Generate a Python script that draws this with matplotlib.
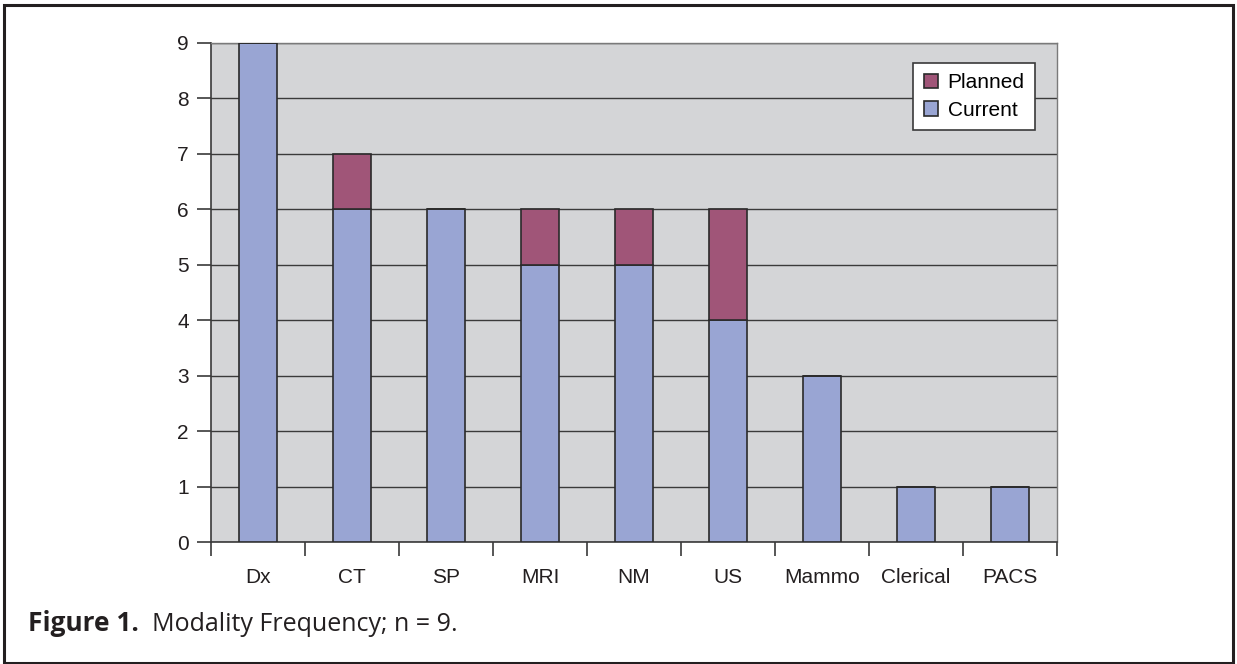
import matplotlib.pyplot as plt
import numpy as np
from matplotlib.patches import Rectangle

categories = ["Dx", "CT", "SP", "MRI", "NM", "US", "Mammo", "Clerical", "PACS"]
current = [9, 6, 6, 5, 5, 4, 3, 1, 1]
planned = [0, 1, 0, 1, 1, 2, 0, 0, 0]
y_ticks = [0, 1, 2, 3, 4, 5, 6, 7, 8, 9]

blue = "#99a5d3"
plum = "#a05578"
edge = "#2a2a2a"

plt.rcParams["font.family"] = ["Liberation Sans", "DejaVu Sans"]

fig = plt.figure(figsize=(12.37, 6.64), dpi=100)

# outer frame of the figure panel
fig.patches.append(Rectangle((4 / 1237, 1 / 664), 1229 / 1237, 658 / 664,
                             transform=fig.transFigure, fill=False,
                             edgecolor="#231f20", linewidth=2.2))

ax = fig.add_axes([211 / 1237, 1 - 542 / 664, 846 / 1237, 499 / 664])
ax.set_facecolor("#d4d5d7")

x = np.arange(len(categories))
ax.bar(x, current, width=0.4, color=blue, edgecolor=edge, linewidth=1.2,
       label="Current", zorder=3)
ax.bar(x, planned, width=0.4, bottom=current, color=plum, edgecolor=edge,
       linewidth=1.2, label="Planned", zorder=3)

ax.set_xlim(-0.5, len(categories) - 0.5)
ax.set_ylim(0, 9)
ax.set_yticks(y_ticks)
ax.set_yticklabels([str(v) for v in y_ticks], fontsize=15, color="#231f20")
ax.yaxis.grid(True, color="#3a3a3a", linewidth=1.0, zorder=1)
ax.set_axisbelow(True)

ax.set_xticks(x)
ax.set_xticklabels(categories, fontsize=15, color="#231f20")
ax.tick_params(axis="x", length=0, pad=19)
ax.set_xticks(np.arange(-0.5, len(categories)), minor=True)
ax.tick_params(axis="x", which="minor", length=10, width=1.2, color="#3a3a3a")
ax.tick_params(axis="y", length=10, width=1.2, color="#3a3a3a", pad=6)

for side in ["left", "bottom"]:
    ax.spines[side].set_color("#3a3a3a")
    ax.spines[side].set_linewidth(1.2)
for side in ["top", "right"]:
    ax.spines[side].set_color("#7a7a7a")
    ax.spines[side].set_linewidth(1.0)

handles, labels = ax.get_legend_handles_labels()
leg = ax.legend(handles[::-1], labels[::-1], loc="upper right",
                bbox_to_anchor=(0.974, 0.960), fontsize=15,
                frameon=True, fancybox=False, borderpad=0.5,
                handlelength=0.7, handleheight=0.7, handletextpad=0.45,
                labelspacing=0.4, borderaxespad=0)
leg.get_frame().set_edgecolor("#3a3a3a")
leg.get_frame().set_linewidth(1.2)
leg.get_frame().set_facecolor("white")
leg.get_frame().set_alpha(1)

fig.text(28 / 1237, 1 - 631 / 664, "Figure 1.", fontsize=19,
         fontweight="bold", family=["Open Sans", "DejaVu Sans"],
         color="#231f20", va="baseline")
fig.text(152 / 1237, 1 - 631 / 664, "Modality Frequency; n = 9.",
         fontsize=18, family=["Open Sans", "DejaVu Sans"],
         color="#231f20", va="baseline")

fig.savefig("out.png", dpi=100, facecolor="white")
